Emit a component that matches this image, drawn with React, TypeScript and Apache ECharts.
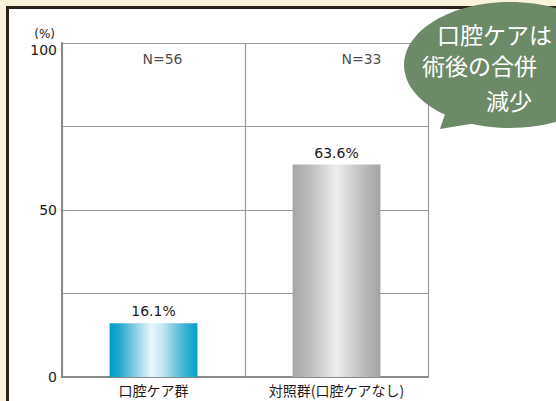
import React, { useEffect, useRef } from "react";
import * as echarts from "echarts";

const categories = ["口腔ケア群", "対照群(口腔ケアなし)"];
const rates = [16.1, 63.6];
const sampleLabels = ["N=56", "N=33"];
const yTicks = [0, 25, 50, 75, 100];
const shownTicks = [0, 50, 100];
const bubbleLines = ["口腔ケアは", "術後の合併", "減少"];

const FONT = "'DejaVu Sans', sans-serif";
const JFONT = "'Noto Sans CJK JP', sans-serif";
const INK = "#231815";

const blueGrad = new echarts.graphic.LinearGradient(0, 0, 1, 0, [
  { offset: 0, color: "#009fc6" },
  { offset: 0.1, color: "#1ba7cb" },
  { offset: 0.3, color: "#8fcfe6" },
  { offset: 0.48, color: "#eaf7fd" },
  { offset: 0.6, color: "#c4e6f3" },
  { offset: 0.85, color: "#3fb3d4" },
  { offset: 1, color: "#00a0c6" },
]);
const grayGrad = new echarts.graphic.LinearGradient(0, 0, 1, 0, [
  { offset: 0, color: "#a6a6a6" },
  { offset: 0.2, color: "#bdbdbd" },
  { offset: 0.5, color: "#eeeeee" },
  { offset: 0.8, color: "#bcbcbc" },
  { offset: 1, color: "#a4a4a4" },
]);
const barFills = [blueGrad, grayGrad];
const nOffsets = [[9, 4], [25, 4]];

export default function App() {
  const ref = useRef<HTMLDivElement>(null);
  useEffect(() => {
    if (!ref.current) return;
    const chart = echarts.init(ref.current, null, { renderer: "svg" });
    const nLabelStyle = {
      show: true,
      position: "bottom",
      color: INK,
      fontFamily: FONT,
      fontSize: 14,
    };
    chart.setOption({
      animation: false,
      backgroundColor: "#faf3dc",
      graphic: [
        { type: "rect", z: -10, shape: { x: 6, y: 6, width: 560, height: 410 }, style: { fill: "#2a2019" } },
        { type: "rect", z: -9, shape: { x: 9, y: 9, width: 560, height: 410 }, style: { fill: "#ffffff" } },
        { type: "ellipse", z: 100, shape: { cx: 510, cy: 65, rx: 106, ry: 63 }, style: { fill: "#6d8a68" } },
        { type: "polygon", z: 100, shape: { points: [[440, 129], [448, 105], [482, 122]] }, style: { fill: "#6d8a68" } },
        ...bubbleLines.map((t, i) => ({
          type: "text",
          z: 101,
          x: [437, 422, 486][i],
          y: [34, 65, 100][i],
          style: { text: t, fill: "#ffffff", font: `23px ${JFONT}`, textVerticalAlign: "middle", textAlign: "left" },
        })),
      ],
      grid: { left: 62, right: 128, top: 43, bottom: 24 },
      xAxis: {
        type: "category",
        data: categories,
        axisLine: { lineStyle: { color: "#8a8a8a", width: 2 } },
        axisTick: { show: false },
        axisLabel: { color: INK, fontFamily: JFONT, fontSize: 14, margin: 6, interval: 0 },
        splitLine: { show: true, interval: 0, lineStyle: { color: "#9a9a9a", width: 1.2 } },
      },
      yAxis: {
        type: "value",
        min: 0,
        max: 100,
        interval: 25,
        name: "(%)",
        nameLocation: "end",
        nameGap: 3,
        nameTextStyle: { color: INK, fontFamily: FONT, fontSize: 12, align: "right", padding: [0, 7, 0, 0] },
        axisLine: { show: true, lineStyle: { color: "#8a8a8a", width: 2 } },
        axisTick: { show: false },
        axisLabel: {
          color: INK,
          fontFamily: FONT,
          fontSize: 14,
          margin: 5,
          formatter: (v: number) => {
            if (!(shownTicks.includes(v) && yTicks.includes(v))) return "";
            return v === 100 ? `{top|${v}}` : String(v);
          },
          rich: {
            top: { fontFamily: FONT, fontSize: 14, color: INK, padding: [14, 0, 0, 0] },
          },
        },
        splitLine: { show: true, lineStyle: { color: "#9a9a9a", width: 1.2 } },
      },
      series: [
        {
          type: "bar",
          barWidth: "48%",
          data: rates.map((v, i) => ({ value: v, itemStyle: { color: barFills[i] } })),
          label: {
            show: true,
            position: "top",
            distance: 5,
            color: INK,
            fontFamily: FONT,
            fontSize: 14,
            formatter: (p: any) => `${p.value}%`,
          },
        },
        {
          type: "scatter",
          symbolSize: 0,
          silent: true,
          data: sampleLabels.map((s, i) => ({
            value: 100,
            label: { ...nLabelStyle, offset: nOffsets[i], formatter: s },
          })),
          label: nLabelStyle,
        },
      ],
    });
    return () => chart.dispose();
  }, []);
  return (
    <div
      ref={ref}
      style={{ position: "fixed", left: 0, top: 0, width: 556, height: 401 }}
    />
  );
}
